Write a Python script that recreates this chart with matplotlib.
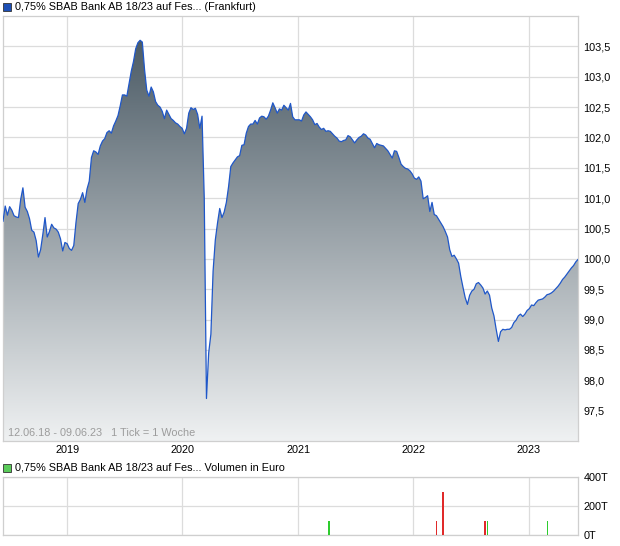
import matplotlib
matplotlib.use('Agg')
import matplotlib.pyplot as plt
import numpy as np
import pandas as pd
import matplotlib.dates as mdates
from matplotlib.patches import Rectangle
from matplotlib.colors import LinearSegmentedColormap

plt.rcParams['font.family'] = ['Liberation Sans', 'DejaVu Sans']

# ---------------- data ----------------
title_main = '0,75% SBAB Bank AB 18/23 auf Fes... (Frankfurt)'
title_vol = '0,75% SBAB Bank AB 18/23 auf Fes... Volumen in Euro'
range_text = '12.06.18 - 09.06.23   1 Tick = 1 Woche'
start_date = '2018-06-12'

prices = [
    100.62, 100.87, 100.72, 100.86, 100.80, 100.71, 100.69, 100.68, 100.98, 101.17,
    100.85, 100.78, 100.66, 100.47, 100.44, 100.30, 100.03, 100.15, 100.40, 100.68,
    100.36, 100.45, 100.57, 100.51, 100.49, 100.44, 100.33, 100.13, 100.27, 100.25,
    100.17, 100.14, 100.22, 100.60, 100.91, 100.98, 101.09, 100.93, 101.15, 101.28,
    101.67, 101.78, 101.76, 101.72, 101.86, 101.94, 101.98, 102.08, 102.11, 102.07,
    102.19, 102.27, 102.36, 102.52, 102.70, 102.70, 102.68, 102.88, 103.09, 103.25,
    103.46, 103.56, 103.60, 103.57, 103.12, 102.78, 102.68, 102.83, 102.75, 102.59,
    102.53, 102.50, 102.43, 102.31, 102.45, 102.38, 102.31, 102.28, 102.24, 102.22,
    102.18, 102.15, 102.06, 102.15, 102.40, 102.49, 102.46, 102.48, 102.38, 102.15,
    102.35, 101.00, 97.70, 98.45, 98.76, 99.80, 100.31, 100.59, 100.83, 100.68,
    100.77, 100.93, 101.19, 101.52, 101.58, 101.63, 101.68, 101.70, 101.87, 101.88,
    102.07, 102.18, 102.22, 102.22, 102.28, 102.22, 102.32, 102.35, 102.34, 102.30,
    102.35, 102.45, 102.57, 102.49, 102.40, 102.47, 102.45, 102.53, 102.49, 102.45,
    102.56, 102.34, 102.29, 102.29, 102.29, 102.27, 102.37, 102.42, 102.38, 102.34,
    102.29, 102.21, 102.23, 102.17, 102.13, 102.15, 102.10, 102.11, 102.10, 102.06,
    102.02, 101.99, 101.94, 101.93, 101.95, 101.96, 102.03, 102.01, 101.96, 101.91,
    101.96, 102.00, 102.02, 102.06, 102.04, 101.99, 101.97, 101.90, 101.83, 101.90,
    101.88, 101.87, 101.86, 101.82, 101.78, 101.72, 101.66, 101.78, 101.77, 101.67,
    101.56, 101.52, 101.49, 101.48, 101.45, 101.40, 101.33, 101.31, 101.35, 101.28,
    100.99, 101.01, 101.04, 100.78, 100.93, 100.73, 100.71, 100.65, 100.59, 100.53,
    100.45, 100.36, 100.15, 100.04, 100.06, 100.00, 99.93, 99.71, 99.53, 99.36,
    99.25, 99.40, 99.47, 99.50, 99.59, 99.61, 99.57, 99.52, 99.42, 99.47,
    99.40, 99.19, 99.06, 98.84, 98.64, 98.80, 98.84, 98.83, 98.84, 98.84,
    98.87, 98.95, 98.99, 99.06, 99.09, 99.05, 99.09, 99.15, 99.18, 99.24,
    99.23, 99.28, 99.32, 99.33, 99.34, 99.37, 99.41, 99.42, 99.44, 99.47,
    99.51, 99.55, 99.60, 99.66, 99.70, 99.75, 99.80, 99.85, 99.89, 99.95,
    99.99,
]

vol_dates = ['2021-04-09', '2022-03-15', '2022-04-05', '2022-08-16', '2022-08-24', '2023-03-01']
vol_values = [100, 100, 300, 100, 100, 100]          # in T (thousand EUR)
vol_up = [True, False, False, False, True, True]

year_labels = ['2019', '2020', '2021', '2022', '2023']
price_ticks = [97.5, 98.0, 98.5, 99.0, 99.5, 100.0, 100.5, 101.0, 101.5, 102.0, 102.5, 103.0, 103.5]
vol_ticks = [0, 200, 400]
vol_tick_labels = ['0T', '200T', '400T']

# ---------------- figure ----------------
W, H = 620, 546
fig = plt.figure(figsize=(W / 100, H / 100), dpi=100)

def fx(px):
    return px / W

def fy(py):
    return 1 - py / H

dates = pd.date_range(start_date, periods=len(prices), freq='7D')
xnum = mdates.date2num(dates)
year_pos = [mdates.date2num(pd.Timestamp(y + '-01-01')) for y in year_labels]

grid_c = '#dcdcdc'
spine_c = '#cfcfcf'
FS = 7.8

# main axes
ax = fig.add_axes([fx(3), fy(441), fx(578) - fx(3), fy(16) - fy(441)])
ymin, ymax = 97.0, 104.0
ax.set_xlim(xnum[0], xnum[-1])
ax.set_ylim(ymin, ymax)

poly = ax.fill_between(xnum, prices, ymin, facecolor='none', edgecolor='none')
grad = np.linspace(0, 1, 256).reshape(-1, 1)
cmap = LinearSegmentedColormap.from_list('g', ['#43535e', '#eff1f2'])
im = ax.imshow(grad, extent=[xnum[0], xnum[-1], ymin, ymax], aspect='auto',
               cmap=cmap, origin='upper', zorder=1, interpolation='bilinear')
im.set_clip_path(poly.get_paths()[0], transform=ax.transData)
ax.plot(xnum, prices, color='#1f57c9', lw=0.9, zorder=3)
ax.set_xlim(xnum[0], xnum[-1])
ax.set_ylim(ymin, ymax)

ax.set_xticks(year_pos)
ax.set_xticklabels(year_labels)
ax.set_yticks(price_ticks)
ax.set_yticklabels([f'{v:.1f}'.replace('.', ',') for v in price_ticks])
ax.yaxis.tick_right()
ax.tick_params(axis='both', length=0, labelsize=FS, colors='black')
ax.tick_params(axis='y', pad=4)
ax.tick_params(axis='x', pad=3)
ax.grid(True, color=grid_c, lw=0.9)
ax.set_axisbelow(True)
for s in ax.spines.values():
    s.set_color(spine_c)
    s.set_linewidth(0.9)
ax.text(0.009, 0.006, range_text, transform=ax.transAxes, color='#9c9c9c',
        fontsize=FS, va='bottom', ha='left', zorder=4)

# volume axes
av = fig.add_axes([fx(3), fy(535), fx(578) - fx(3), fy(477) - fy(535)])
av.set_xlim(xnum[0], xnum[-1])
av.set_ylim(0, 400)
vx = mdates.date2num(pd.to_datetime(vol_dates))
cols = ['#2ecc2e' if u else '#e02a2a' for u in vol_up]
av.bar(vx, vol_values, width=4.5, color=cols, linewidth=0, zorder=3)
av.set_xlim(xnum[0], xnum[-1])
av.set_ylim(0, 400)
av.set_xticks(year_pos)
av.set_xticklabels([])
av.set_yticks(vol_ticks)
av.set_yticklabels(vol_tick_labels)
av.yaxis.tick_right()
av.tick_params(axis='both', length=0, labelsize=FS, colors='black')
av.tick_params(axis='y', pad=4)
av.grid(True, color=grid_c, lw=0.9)
av.set_axisbelow(True)
for s in av.spines.values():
    s.set_color(spine_c)
    s.set_linewidth(0.9)

# titles with legend squares
fig.patches.append(Rectangle((fx(3), fy(11)), fx(8), 8 / H, transform=fig.transFigure,
                             facecolor='#1d4fb5', edgecolor='#333333', lw=0.6))
fig.text(fx(15), fy(6.5), title_main, fontsize=FS, va='center', ha='left')
fig.patches.append(Rectangle((fx(3), fy(472)), fx(8), 8 / H, transform=fig.transFigure,
                             facecolor='#5acb5a', edgecolor='#333333', lw=0.6))
fig.text(fx(15), fy(467.5), title_vol, fontsize=FS, va='center', ha='left')

fig.savefig('out.png', dpi=100)
